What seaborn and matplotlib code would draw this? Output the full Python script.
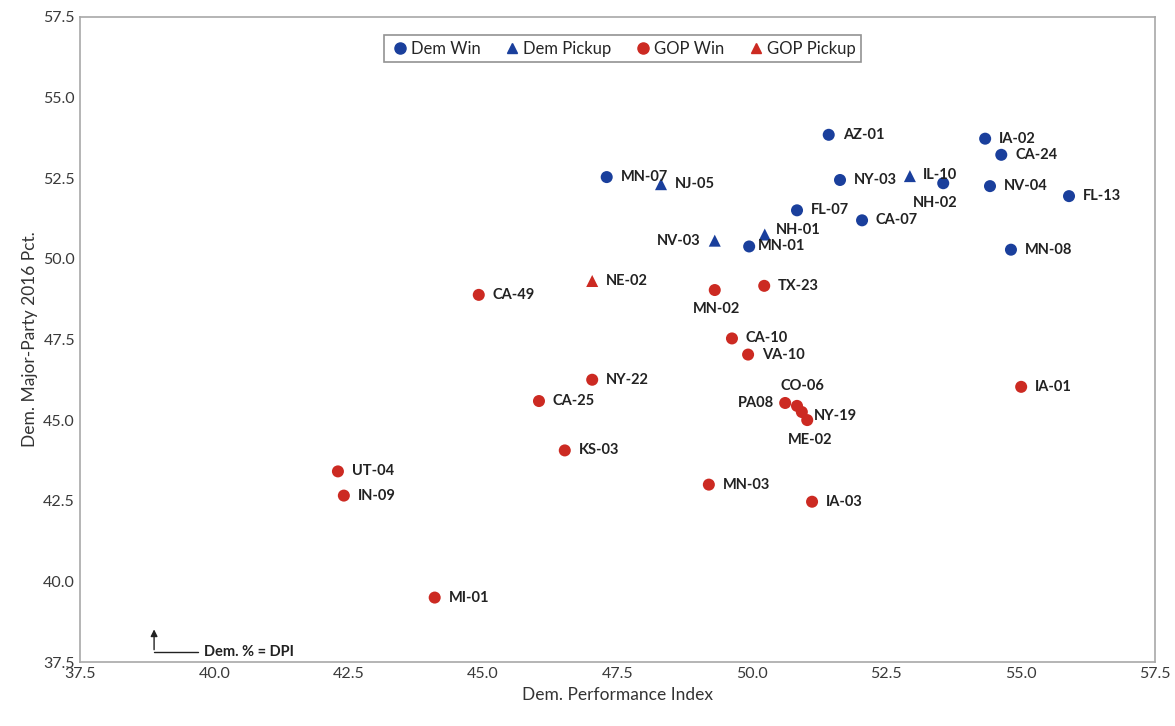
import numpy as np
import pandas as pd
import matplotlib.pyplot as plt
import seaborn as sns
from matplotlib.lines import Line2D

districts = ['AZ-01', 'IA-02', 'CA-24', 'NY-03', 'NH-02', 'NV-04', 'FL-13', 'MN-07',
             'FL-07', 'CA-07', 'MN-01', 'MN-08',
             'IL-10', 'NJ-05', 'NV-03', 'NH-01',
             'CA-49', 'MN-02', 'TX-23', 'CA-10', 'VA-10', 'NY-22', 'CA-25', 'PA08',
             'CO-06', 'NY-19', 'ME-02', 'IA-01', 'KS-03', 'UT-04', 'IN-09', 'MN-03',
             'IA-03', 'MI-01',
             'NE-02']
dpi = [51.43, 54.34, 54.64, 51.64, 53.56, 54.43, 55.90, 47.30,
       50.84, 52.05, 49.95, 54.82,
       52.94, 48.31, 49.31, 50.24,
       44.92, 49.31, 50.23, 49.63, 49.93, 47.03, 46.04, 50.62,
       50.84, 50.93, 51.03, 55.01, 46.52, 42.30, 42.41, 49.20,
       51.12, 44.10,
       47.03]
dem_pct = [53.84, 53.72, 53.22, 52.44, 52.34, 52.25, 51.94, 52.53,
           51.50, 51.19, 50.38, 50.28,
           52.56, 52.31, 50.56, 50.75,
           48.88, 49.03, 49.16, 47.53, 47.03, 46.25, 45.59, 45.53,
           45.44, 45.25, 45.00, 46.03, 44.06, 43.41, 42.66, 43.00,
           42.47, 39.50,
           49.31]
outcome = (['Dem Win'] * 12 + ['Dem Pickup'] * 4 + ['GOP Win'] * 18 + ['GOP Pickup'] * 1)

# label offsets in points (dx, dy, ha)
offsets = {
    'NH-02': (-22, -14, 'left'), 'NV-03': (-10, 0, 'right'), 'NH-01': (8, 3, 'left'),
    'MN-01': (6, 0, 'left'), 'MN-02': (-16, -14, 'left'), 'PA08': (-8, 0, 'right'),
    'CO-06': (-12, 14, 'left'), 'NY-19': (9, -3, 'left'), 'ME-02': (-14, -14, 'left'),
    'IL-10': (9, 1, 'left'),
}

df = pd.DataFrame({'district': districts, 'dpi': dpi, 'dem_pct': dem_pct, 'outcome': outcome})

blue = '#1a3f9c'
red = '#cc2a22'
palette = {'Dem Win': blue, 'Dem Pickup': blue, 'GOP Win': red, 'GOP Pickup': red}
markers = {'Dem Win': 'o', 'Dem Pickup': '^', 'GOP Win': 'o', 'GOP Pickup': '^'}

sns.set_style('white')
plt.rcParams['font.family'] = ['Lato', 'DejaVu Sans']

fig, ax = plt.subplots(figsize=(11.75, 7.26), dpi=100)
fig.subplots_adjust(left=0.068, right=0.983, top=0.977, bottom=0.088)

sns.scatterplot(data=df, x='dpi', y='dem_pct', hue='outcome', style='outcome',
                palette=palette, markers=markers, s=75, edgecolor='none',
                legend=False, ax=ax)

for _, r in df.iterrows():
    dx, dy, ha = offsets.get(r['district'], (10, 0, 'left'))
    ax.annotate(r['district'], (r['dpi'], r['dem_pct']), xytext=(dx, dy),
                textcoords='offset points', ha=ha, va='center',
                fontsize=10.5, fontweight='bold', color='#222222')

ax.set_xlim(37.5, 57.5)
ax.set_ylim(37.5, 57.5)
ticks = np.arange(37.5, 57.6, 2.5)
ax.set_xticks(ticks)
ax.set_yticks(ticks)
ax.set_xticklabels([f'{t:.1f}' for t in ticks])
ax.set_yticklabels([f'{t:.1f}' for t in ticks])
ax.tick_params(labelsize=11.5, colors='#3a3a3a', length=0)
ax.set_xlabel('Dem. Performance Index', fontsize=12.5, color='#333333')
ax.set_ylabel('Dem. Major-Party 2016 Pct.', fontsize=12.5, color='#333333')
for sp in ax.spines.values():
    sp.set_color('#a8a8a8')
    sp.set_linewidth(1.2)

handles = [Line2D([], [], marker=markers[k], color=palette[k], linestyle='none',
                  markersize=8 if markers[k] == 'o' else 7, label=k)
           for k in ['Dem Win', 'Dem Pickup', 'GOP Win', 'GOP Pickup']]
leg = ax.legend(handles=handles, loc='upper center', ncol=4, frameon=True,
                fancybox=False, fontsize=12, handletextpad=0.05, columnspacing=1.3,
                handlelength=1.2, borderpad=0.35, bbox_to_anchor=(0.505, 0.985))
leg.get_frame().set_edgecolor('#777777')
leg.get_frame().set_linewidth(1.2)

# L-shaped arrow note in the corner
ax.annotate('', xy=(38.88, 38.6), xytext=(38.88, 37.8),
            arrowprops=dict(arrowstyle='-|>', color='#222222', lw=1, mutation_scale=10))
ax.plot([38.88, 39.7], [37.8, 37.8], color='#222222', lw=1)
ax.text(39.8, 37.8, 'Dem. % = DPI', fontsize=10.5, fontweight='bold', va='center', color='#222222')

plt.savefig('out.png', dpi=100)
